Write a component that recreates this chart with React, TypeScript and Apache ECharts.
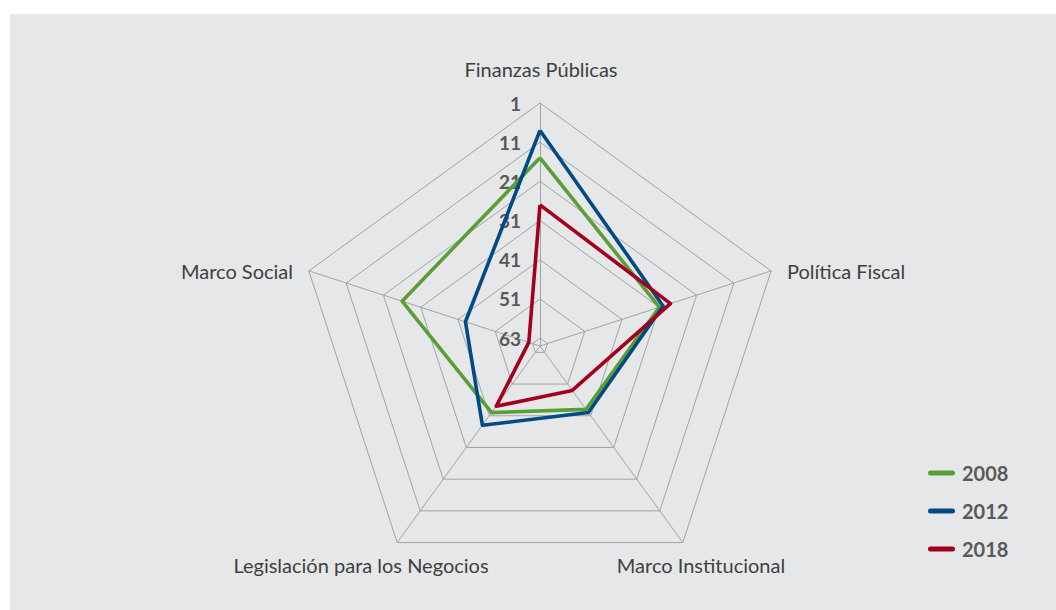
import React, { useEffect, useRef } from "react";
import * as echarts from "echarts";

// Categories in clockwise order starting at the top
const categories = [
  "Finanzas Públicas",
  "Política Fiscal",
  "Marco Institucional",
  "Legislación para los Negocios",
  "Marco Social",
];

const years = ["2008", "2012", "2018"];
// Ranking positions (1 = best, outer ring)
const values2008 = [15, 31, 43, 42, 26];
const values2012 = [8, 30, 42, 38, 43];
const values2018 = [27, 28, 49, 44, 60];

const rankBest = 1;
const rankWorst = 63;
const ringRanks = [1, 11, 21, 31, 41, 51, 61];
const ringLabels = ["1", "11", "21", "31", "41", "51", "63"];

const seriesColors = ["#5a9e37", "#004a85", "#a3001f"];

export default function App() {
  const ref = useRef<HTMLDivElement>(null);

  useEffect(() => {
    if (!ref.current) return;
    const chart = echarts.init(ref.current, null, { renderer: "svg" });

    // ECharts places indicators counter-clockwise; reorder
    const order = [0, 4, 3, 2, 1];
    const span = rankWorst - rankBest;
    const toScale = (v: number) => rankWorst - v; // 0 at centre, span at outer
    const reorder = (arr: number[]) => order.map((i) => toScale(arr[i]));

    const labelFont = "Lato, 'Open Sans', sans-serif";

    const indicator = order.map((i, k) => ({
      name: categories[i],
      min: 0,
      max: span,
      ...(k === 0
        ? {
            axisLabel: {
              show: true,
              margin: 19,
              color: "#595959",
              fontWeight: "bold",
              fontSize: 19,
              fontFamily: labelFont,
              formatter: (t: number) => {
                const v = Math.round(rankWorst - t);
                const idx = ringRanks.indexOf(v);
                return idx >= 0 ? ringLabels[idx] : "";
              },
            },
          }
        : {}),
    }));

    const ringData = ringRanks.map((r) => ({
      value: order.map(() => toScale(r)),
    }));

    const dataSets = [values2008, values2012, values2018];

    const nameStyle = {
      fill: "#404040",
      fontSize: 20,
      fontFamily: labelFont,
    };

    chart.setOption({
      animation: false,
      backgroundColor: "#ffffff",
      graphic: [
        {
          type: "rect",
          z: -100,
          silent: true,
          shape: { x: 10, y: 14, width: 1046, height: 596 },
          style: { fill: "#e6e7e8" },
        },
        {
          type: "text",
          x: 541,
          y: 69,
          style: { ...nameStyle, text: categories[0], textAlign: "center", textVerticalAlign: "middle" },
        },
        {
          type: "text",
          x: 787,
          y: 271,
          style: { ...nameStyle, text: categories[1], textAlign: "left", textVerticalAlign: "middle" },
        },
        {
          type: "text",
          x: 701,
          y: 565,
          style: { ...nameStyle, text: categories[2], textAlign: "center", textVerticalAlign: "middle" },
        },
        {
          type: "text",
          x: 361,
          y: 565,
          style: { ...nameStyle, text: categories[3], textAlign: "center", textVerticalAlign: "middle" },
        },
        {
          type: "text",
          x: 293,
          y: 271,
          style: { ...nameStyle, text: categories[4], textAlign: "right", textVerticalAlign: "middle" },
        },
      ],
      legend: {
        data: years,
        orient: "vertical",
        left: 923,
        top: 458,
        itemWidth: 27,
        itemHeight: 5,
        itemGap: 18,
        icon: "path://M2.5,0 H24.5 A2.5,2.5 0 0 1 24.5,5 H2.5 A2.5,2.5 0 0 1 2.5,0 Z",
        textStyle: {
          color: "#595959",
          fontWeight: "bold",
          fontSize: 20,
          fontFamily: labelFont,
          lineHeight: 20,
          padding: [0, 0, 0, 2],
        },
      },
      radar: {
        center: [540, 346],
        radius: 243,
        startAngle: 90,
        shape: "polygon",
        splitNumber: 31,
        indicator,
        axisName: { show: false },
        axisLine: { lineStyle: { color: "#a3a3a3", width: 1 } },
        axisTick: { show: false },
        axisLabel: { show: false },
        splitLine: { show: false },
        splitArea: { show: false },
      },
      series: [
        {
          type: "radar",
          name: "rings",
          silent: true,
          symbol: "none",
          z: 1,
          lineStyle: { color: "#a3a3a3", width: 1 },
          data: ringData,
        },
        ...years.map((y, i) => ({
          type: "radar",
          name: y,
          symbol: "none",
          z: 2,
          itemStyle: { color: seriesColors[i] },
          lineStyle: { color: seriesColors[i], width: 3.6 },
          data: [{ name: y, value: reorder(dataSets[i]) }],
        })),
      ],
    });

    return () => chart.dispose();
  }, []);

  return (
    <div
      ref={ref}
      style={{ position: "absolute", left: 0, top: 0, width: 1056, height: 610 }}
    />
  );
}
